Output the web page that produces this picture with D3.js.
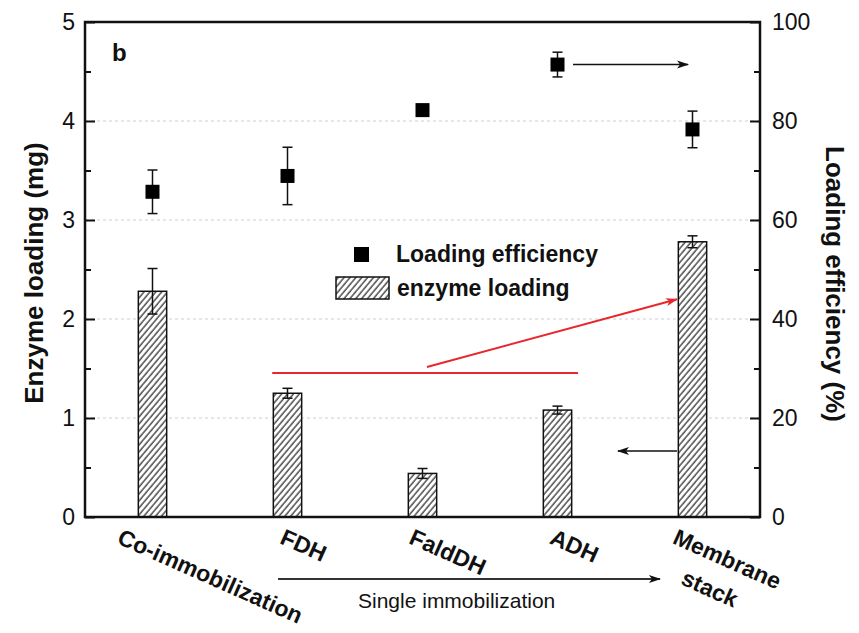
<!DOCTYPE html>
<html>
<head>
<meta charset="utf-8">
<script src="https://cdn.jsdelivr.net/npm/d3@7"></script>
<style>
  body { margin: 0; background: #fff; }
  text { font-family: "Liberation Sans", Arial, sans-serif; }
</style>
</head>
<body>
<div id="chart"></div>
<script>
// categories and values
const categories = ['Co-immobilization', 'FDH', 'FaldDH', 'ADH', 'Membrane stack'];
const loadingMg = [2.28, 1.25, 0.44, 1.08, 2.78];
const loadingMgErr = [0.23, 0.05, 0.05, 0.04, 0.06];
const efficiency = [65.7, 68.9, 82.2, 91.4, 78.3];
const efficiencyErr = [4.4, 5.8, 1.0, 2.5, 3.7];
const leftTicks = [0, 1, 2, 3, 4, 5];
const rightTicks = [0, 20, 40, 60, 80, 100];
const gridTicks = [1, 2, 3, 4];

const width = 859, height = 633;
const margin = { top: 22, right: 99, bottom: 116, left: 85 };

const svg = d3.select('#chart').append('svg')
  .attr('width', width)
  .attr('height', height);

svg.append('rect').attr('width', width).attr('height', height).attr('fill', '#fff');

const x = d3.scaleBand()
  .domain(categories)
  .range([margin.left, width - margin.right])
  .paddingInner(0.79)
  .paddingOuter(0.395);

// index scale for annotations (category centres)
const xi = d3.scaleLinear()
  .domain([0, categories.length - 1])
  .range([x(categories[0]) + x.bandwidth() / 2, x(categories[4]) + x.bandwidth() / 2]);

const yL = d3.scaleLinear().domain([0, 5]).range([height - margin.bottom, margin.top]);
const yR = d3.scaleLinear().domain([0, 100]).range([height - margin.bottom, margin.top]);

const defs = svg.append('defs');

// hatch pattern
const pat = defs.append('pattern')
  .attr('id', 'hatch')
  .attr('patternUnits', 'userSpaceOnUse')
  .attr('width', 4.5)
  .attr('height', 4.5)
  .attr('patternTransform', 'rotate(40)');
pat.append('rect').attr('width', 4.5).attr('height', 4.5).attr('fill', '#fff');
pat.append('line')
  .attr('x1', 1).attr('y1', 0).attr('x2', 1).attr('y2', 4.5)
  .attr('stroke', '#222').attr('stroke-width', 1.2);

function arrowMarker(id, color) {
  defs.append('marker')
    .attr('id', id)
    .attr('viewBox', '0 0 12 10')
    .attr('refX', 11)
    .attr('refY', 5)
    .attr('markerUnits', 'userSpaceOnUse')
    .attr('markerWidth', 14)
    .attr('markerHeight', 10)
    .attr('orient', 'auto')
    .append('path')
    .attr('d', 'M0,1 L12,5 L0,9 L3,5 Z')
    .attr('fill', color);
}
arrowMarker('arrBlack', '#111');
arrowMarker('arrRed', '#e8262b');

// gridlines
svg.append('g')
  .selectAll('line')
  .data(gridTicks)
  .join('line')
  .attr('x1', margin.left)
  .attr('x2', width - margin.right)
  .attr('y1', d => yL(d))
  .attr('y2', d => yL(d))
  .attr('stroke', '#cfcfcf')
  .attr('stroke-width', 1)
  .attr('stroke-dasharray', '3,3');

// bars
svg.append('g')
  .selectAll('rect')
  .data(categories)
  .join('rect')
  .attr('x', d => x(d))
  .attr('width', x.bandwidth())
  .attr('y', (d, i) => yL(loadingMg[i]))
  .attr('height', (d, i) => yL(0) - yL(loadingMg[i]))
  .attr('fill', 'url(#hatch)')
  .attr('stroke', '#111')
  .attr('stroke-width', 1.5);

function errorBars(cls, values, errs, scale) {
  const g = svg.append('g').attr('class', cls).attr('stroke', '#111').attr('stroke-width', 1.5);
  categories.forEach((c, i) => {
    const cx = x(c) + x.bandwidth() / 2;
    const top = scale(values[i] + errs[i]);
    const bot = scale(values[i] - errs[i]);
    g.append('line').attr('x1', cx).attr('x2', cx).attr('y1', top).attr('y2', bot);
    g.append('line').attr('x1', cx - 5).attr('x2', cx + 5).attr('y1', top).attr('y2', top);
    g.append('line').attr('x1', cx - 5).attr('x2', cx + 5).attr('y1', bot).attr('y2', bot);
  });
}
errorBars('bar-err', loadingMg, loadingMgErr, yL);
errorBars('pt-err', efficiency, efficiencyErr, yR);

// efficiency squares
const sq = 14;
svg.append('g')
  .selectAll('rect')
  .data(categories)
  .join('rect')
  .attr('x', d => x(d) + x.bandwidth() / 2 - sq / 2)
  .attr('y', (d, i) => yR(efficiency[i]) - sq / 2)
  .attr('width', sq)
  .attr('height', sq)
  .attr('fill', '#000');

// axes
svg.append('g')
  .attr('transform', `translate(${margin.left},0)`)
  .call(d3.axisLeft(yL).tickValues(leftTicks).tickSize(-10).tickPadding(10).tickFormat(d3.format('d')));
svg.append('g')
  .attr('transform', `translate(${margin.left},0)`)
  .call(d3.axisLeft(yL).tickValues(d3.range(0.5, 5, 1)).tickSize(-6).tickFormat(''));
svg.append('g')
  .attr('transform', `translate(${width - margin.right},0)`)
  .call(d3.axisRight(yR).tickValues(rightTicks).tickSize(-10).tickPadding(12).tickFormat(d3.format('d')));
svg.append('g')
  .attr('transform', `translate(${width - margin.right},0)`)
  .call(d3.axisRight(yR).tickValues(d3.range(10, 100, 20)).tickSize(-6).tickFormat(''));

svg.selectAll('.domain').remove();
svg.selectAll('.tick line').attr('stroke', '#111').attr('stroke-width', 2);
svg.selectAll('.tick text')
  .attr('font-size', 23)
  .attr('fill', '#111');

// frame
svg.append('rect')
  .attr('x', margin.left)
  .attr('y', margin.top)
  .attr('width', width - margin.left - margin.right)
  .attr('height', height - margin.top - margin.bottom)
  .attr('fill', 'none')
  .attr('stroke', '#111')
  .attr('stroke-width', 2.5);

// x category labels, rotated
const angle = 24;
const rad = angle * Math.PI / 180;
const xl = svg.append('g').attr('font-size', 23).attr('font-weight', 'bold').attr('fill', '#111');
categories.forEach((c, i) => {
  const lines = c === 'Membrane stack' ? ['Membrane', 'stack'] : [c];
  const cx = x(c) + x.bandwidth() / 2;
  const t = xl.append('text').attr('text-anchor', 'start');
  lines.forEach((ln, j) => t.append('tspan').attr('x', 0).attr('dy', j === 0 ? 0 : 34).text(ln));
  const spans = t.selectAll('tspan').nodes();
  const len = spans[0].getComputedTextLength();
  const ax = cx - 0.2 * len * Math.cos(rad);
  t.attr('transform', `translate(${ax},543) rotate(${angle})`);
  if (spans.length > 1) {
    const l2 = spans[1].getComputedTextLength();
    d3.select(spans[1]).attr('x', (len - l2) / 2 - 4);
  }
});

// axis titles
svg.append('text')
  .attr('transform', `translate(34,273) rotate(-90)`)
  .attr('text-anchor', 'middle')
  .attr('dy', '0.35em')
  .attr('font-size', 26)
  .attr('font-weight', 'bold')
  .attr('fill', '#111')
  .text('Enzyme loading (mg)');

svg.append('text')
  .attr('transform', `translate(835,284) rotate(90)`)
  .attr('text-anchor', 'middle')
  .attr('dy', '0.35em')
  .attr('font-size', 26)
  .attr('font-weight', 'bold')
  .attr('fill', '#111')
  .text('Loading efficiency (%)');

// panel letter
svg.append('text')
  .attr('x', 112).attr('y', 61)
  .attr('font-size', 24).attr('font-weight', 'bold').attr('fill', '#111')
  .text('b');

// legend
const lg = svg.append('g').attr('font-size', 23).attr('font-weight', 'bold').attr('fill', '#111');
lg.append('rect').attr('x', 354).attr('y', 247).attr('width', 15).attr('height', 15).attr('fill', '#000');
lg.append('text').attr('x', 396).attr('y', 262).text('Loading efficiency');
lg.append('rect').attr('x', 336).attr('y', 277).attr('width', 53).attr('height', 22)
  .attr('fill', 'url(#hatch)').attr('stroke', '#111').attr('stroke-width', 1.5);
lg.append('text').attr('x', 397).attr('y', 296).text('enzyme loading');

// annotations (data units: category index, axis values)
svg.append('line')
  .attr('x1', xi(3.115)).attr('x2', xi(3.967))
  .attr('y1', yR(efficiency[3])).attr('y2', yR(efficiency[3]))
  .attr('stroke', '#111').attr('stroke-width', 1.5)
  .attr('marker-end', 'url(#arrBlack)');

svg.append('line')
  .attr('x1', xi(3.885)).attr('x2', xi(3.448))
  .attr('y1', yL(0.667)).attr('y2', yL(0.667))
  .attr('stroke', '#111').attr('stroke-width', 1.5)
  .attr('marker-end', 'url(#arrBlack)');

svg.append('line')
  .attr('x1', xi(0.887)).attr('x2', xi(3.152))
  .attr('y1', yL(1.455)).attr('y2', yL(1.455))
  .attr('stroke', '#e8262b').attr('stroke-width', 2);

svg.append('line')
  .attr('x1', xi(2.033)).attr('x2', xi(3.885))
  .attr('y1', yL(1.515)).attr('y2', yL(2.2))
  .attr('stroke', '#e8262b').attr('stroke-width', 2)
  .attr('marker-end', 'url(#arrRed)');

// single immobilization bracket arrow
svg.append('line')
  .attr('x1', xi(0.93)).attr('x2', xi(3.759))
  .attr('y1', 579).attr('y2', 579)
  .attr('stroke', '#333').attr('stroke-width', 2)
  .attr('marker-end', 'url(#arrBlack)');
svg.append('text')
  .attr('x', 358)
  .attr('y', 608)
  .attr('font-size', 21)
  .attr('fill', '#111')
  .text('Single immobilization');
</script>
</body>
</html>
